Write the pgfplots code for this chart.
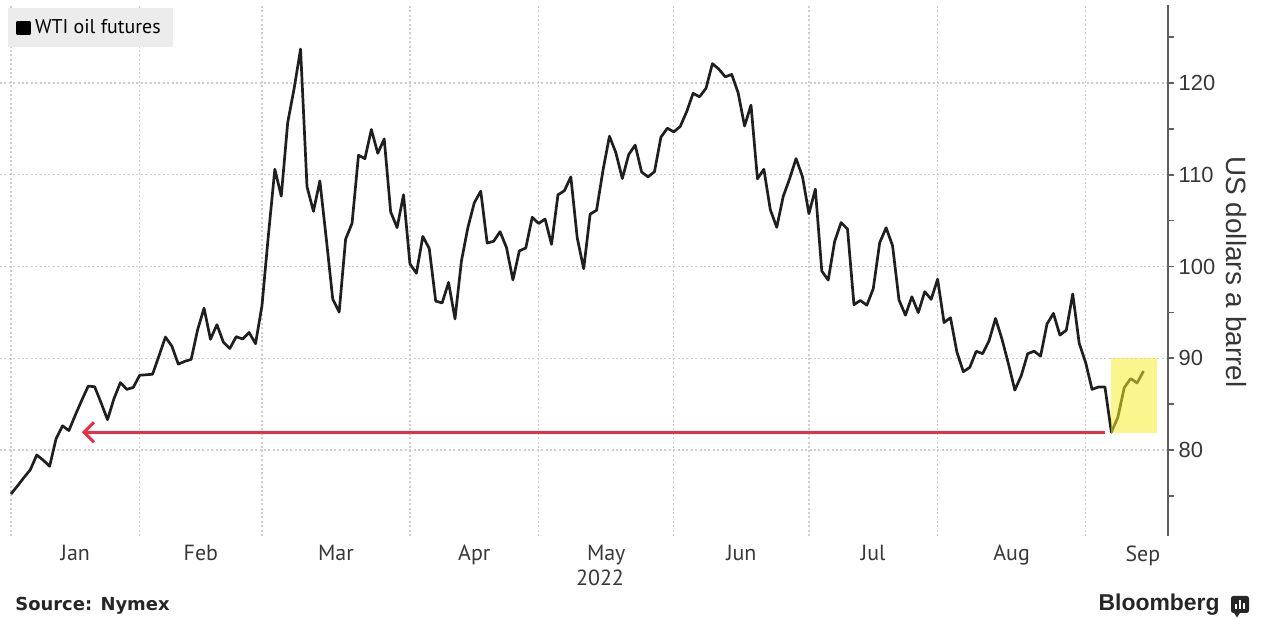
\documentclass[border=0pt]{standalone}
\usepackage{fontspec}
\setmainfont{Liberation Sans}
\newfontfamily\ptsans{PT Sans}
\newfontfamily\dejavu{DejaVu Sans}
\usepackage{pgfplots}
\usepackage{pgfplotstable}
\pgfplotsset{compat=1.18}
\usetikzlibrary{arrows.meta}

\definecolor{gridgray}{RGB}{205,205,205}
\definecolor{axisgray}{RGB}{95,95,95}
\definecolor{arrowred}{RGB}{233,45,70}
\definecolor{boxyellow}{RGB}{246,237,46}
\definecolor{legendgray}{RGB}{236,236,236}
\definecolor{labelgray}{RGB}{55,55,55}

% WTI front-month settle, x = trading-day index (0 = 31 Dec 2021)
\pgfplotstableread{
i price
0 75.21
1 76.08
2 76.99
3 77.85
4 79.46
5 78.90
6 78.23
7 81.22
8 82.64
9 82.12
10 83.82
11 85.43
12 86.96
13 86.90
14 85.14
15 83.31
16 85.60
17 87.35
18 86.61
19 86.82
20 88.15
21 88.20
22 88.26
23 90.27
24 92.31
25 91.32
26 89.36
27 89.66
28 89.88
29 93.10
30 95.46
31 92.07
32 93.66
33 91.76
34 91.07
35 92.35
36 92.10
37 92.81
38 91.59
39 95.72
40 103.41
41 110.60
42 107.67
43 115.68
44 119.40
45 123.70
46 108.70
47 106.02
48 109.33
49 103.01
50 96.44
51 95.04
52 102.98
53 104.70
54 112.12
55 111.76
56 114.93
57 112.34
58 113.90
59 105.96
60 104.24
61 107.82
62 100.28
63 99.27
64 103.28
65 101.96
66 96.23
67 96.03
68 98.26
69 94.29
70 100.60
71 104.25
72 106.95
73 108.21
74 102.56
75 102.75
76 103.79
77 102.07
78 98.54
79 101.70
80 102.02
81 105.36
82 104.69
83 105.17
84 102.41
85 107.81
86 108.26
87 109.77
88 103.09
89 99.76
90 105.71
91 106.13
92 110.49
93 114.20
94 112.40
95 109.59
96 112.21
97 113.23
98 110.29
99 109.77
100 110.33
101 114.09
102 115.07
103 114.67
104 115.26
105 116.87
106 118.87
107 118.50
108 119.41
109 122.11
110 121.51
111 120.67
112 120.93
113 118.93
114 115.31
115 117.59
116 109.56
117 110.60
118 106.19
119 104.27
120 107.62
121 109.57
122 111.76
123 109.78
124 105.76
125 108.43
126 99.50
127 98.53
128 102.73
129 104.79
130 104.09
131 95.84
132 96.30
133 95.78
134 97.59
135 102.60
136 104.22
137 102.26
138 96.35
139 94.70
140 96.70
141 94.98
142 97.26
143 96.42
144 98.62
145 93.89
146 94.42
147 90.66
148 88.54
149 89.01
150 90.76
151 90.50
152 91.93
153 94.34
154 92.09
155 89.41
156 86.53
157 88.11
158 90.50
159 90.77
160 90.23
161 93.74
162 94.89
163 92.52
164 93.06
165 97.01
166 91.64
167 89.55
168 86.61
169 86.87
170 86.88
171 81.94
172 83.54
173 86.79
174 87.78
175 87.31
176 88.60
}\wti

\begin{document}
\begin{tikzpicture}
\useasboundingbox (0,0) rectangle (633bp,309.5bp);
\begin{axis}[
  at={(0bp,41.5bp)}, anchor=south west,
  scale only axis, width=584.15bp, height=265.5bp,
  xmin=-1.71, xmax=179.85, ymin=70.63, ymax=128.5,
  axis x line*=bottom, axis y line*=right,
  x axis line style={draw=none},
  y axis line style={draw=axisgray, line width=1bp},
  xtick={10,29.5,50.5,72,92.5,113.5,134,155.5,175.9},
  xticklabels={Jan,Feb,Mar,Apr,May,Jun,Jul,Aug,Sep},
  minor xtick={0,20,39,62,82,103,124,144,167},
  xminorgrids=true,
  x tick style={draw=none},
  ytick={80,90,...,120},
  minor ytick={75,85,...,125},
  ymajorgrids=true,
  y tick style={draw=axisgray, line width=0.8bp},
  tick align=outside,
  major tick length=3bp, minor tick length=3bp,
  major grid style={draw=gridgray, line width=0.6bp, dash pattern=on 1bp off 1.2bp},
  minor grid style={draw=gridgray, line width=0.6bp, dash pattern=on 1bp off 1.2bp},
  /pgf/number format/assume math mode=true,
  xticklabel style={font=\ptsans\fontsize{11}{13}\selectfont, text=labelgray, inner sep=0pt, anchor=north, yshift=-1.5bp},
  yticklabel style={font=\fontsize{11}{13}\selectfont, text=labelgray, inner sep=0pt, anchor=west, xshift=2bp},
  legend style={at={(axis description cs:0.0068,0.9944)}, anchor=north west,
    fill=legendgray, draw=none, font=\ptsans\fontsize{10}{12}\selectfont,
    inner xsep=4bp, inner ysep=3.5bp},
  legend cell align=left,
  legend image code/.code={\fill[black] (0bp,-3bp) rectangle (6bp,3bp);},
]
\addplot[color=black!88, line width=1.35bp, line join=round] table[x=i, y=price] {\wti};
\addlegendentry{WTI oil futures}
\draw[arrowred, line width=1.5bp, -{Straight Barb[length=5bp, width=10bp]}]
  (axis cs:170,81.94) -- (axis cs:11,81.94);
\fill[boxyellow, fill opacity=0.55] (axis cs:170.9,81.9) rectangle (axis cs:178.1,90.05);
\end{axis}
\node[font=\ptsans\fontsize{11}{13}\selectfont, text=labelgray] at (300bp,20.5bp) {2022};
\node[rotate=-90, font=\fontsize{14}{16}\selectfont, text=labelgray] at (618bp,173.5bp) {US dollars a barrel};
\node[anchor=west, font=\dejavu\bfseries\fontsize{9}{11}\selectfont, text=black!85, inner sep=0pt] at (7.5bp,6.5bp) {Source: Nymex};
\node[anchor=east, font=\bfseries\fontsize{11.5}{13}\selectfont, text=black!85, inner sep=0pt] at (610bp,7bp) {Bloomberg};
\fill[black!85, rounded corners=1.2bp] (615.5bp,3bp) rectangle (624.5bp,11.5bp);
\fill[black!85] (617bp,3.1bp) -- (618.5bp,0.8bp) -- (620bp,3.1bp) -- cycle;
\fill[white] (617.4bp,5bp) rectangle (618.4bp,7.5bp);
\fill[white] (619.5bp,5bp) rectangle (620.5bp,9.3bp);
\fill[white] (621.6bp,5bp) rectangle (622.6bp,8.2bp);
\end{tikzpicture}
\end{document}
